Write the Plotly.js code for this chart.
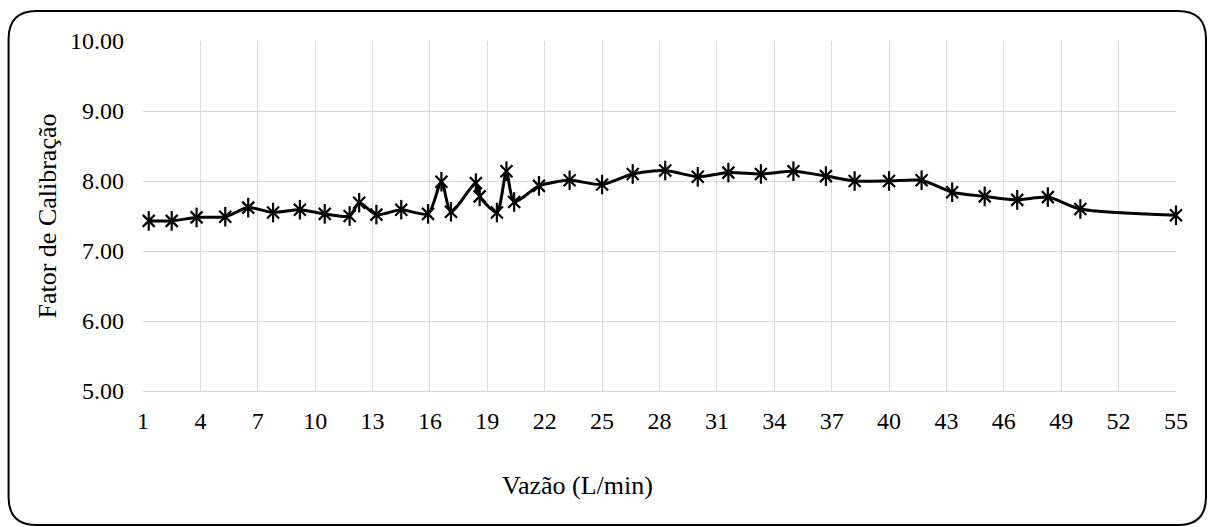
<!DOCTYPE html>
<html>
<head>
<meta charset="utf-8">
<script src="https://cdn.plot.ly/plotly-3.0.1.min.js"></script>
<style>
html,body{margin:0;padding:0;background:#fff;}
#chart{width:1208px;height:527px;}
</style>
</head>
<body>
<div id="chart"></div>
<script>
// Vazão (L/min)
const vazao = [1.3, 2.5, 3.8, 5.3, 6.5, 7.8, 9.2, 10.5, 11.8, 12.3, 13.2, 14.5, 15.9, 16.6, 17.1, 18.4, 18.6, 19.5, 20.0, 20.4,
  21.7, 23.3, 25.0, 26.6, 28.3, 30.0, 31.6, 33.3, 35.0, 36.7, 38.2, 40.0, 41.7, 43.3, 45.0, 46.7, 48.3, 50.0, 55.0];
// Fator de Calibração
const fator = [7.43, 7.43, 7.48, 7.49, 7.62, 7.55, 7.59, 7.53, 7.50, 7.69, 7.52, 7.59, 7.53, 7.99, 7.56, 7.97, 7.78, 7.55, 8.14, 7.70,
  7.93, 8.01, 7.95, 8.10, 8.15, 8.06, 8.12, 8.10, 8.14, 8.07, 8.00, 8.00, 8.01, 7.84, 7.78, 7.73, 7.77, 7.60, 7.51];

const xTitle = 'Vazão (L/min)';
const yTitle = 'Fator de Calibração';

const FONT = 'Liberation Serif, Times New Roman, serif';

// plot area in pixels
const L = 142.5, R = 1176, T = 41, B = 391;
const W = R - L, H = B - T;
const px = v => (v - L) / W;
const py = v => (B - v) / H;

// rounded outer frame
const x0 = px(8), x1 = px(1206), y0 = py(525), y1 = py(11);
const rx = 28 / W, ry = 28 / H;
const framePath = `M ${x0+rx},${y1} L ${x1-rx},${y1} Q ${x1},${y1} ${x1},${y1-ry} L ${x1},${y0+ry} Q ${x1},${y0} ${x1-rx},${y0} L ${x0+rx},${y0} Q ${x0},${y0} ${x0},${y0+ry} L ${x0},${y1-ry} Q ${x0},${y1} ${x0+rx},${y1} Z`;

const lineTrace = {
  x: vazao, y: fator, type: 'scatter', mode: 'lines',
  line: {color: '#000', width: 3, shape: 'spline', smoothing: 0.7},
  cliponaxis: false, hoverinfo: 'x+y'
};
const markX = {
  x: vazao, y: fator, type: 'scatter', mode: 'markers',
  marker: {symbol: 'x-thin-open', size: 12, color: '#000', line: {color: '#000', width: 2.2}},
  cliponaxis: false, hoverinfo: 'skip'
};
const markV = {
  x: vazao, y: fator, type: 'scatter', mode: 'markers',
  marker: {symbol: 'line-ns-open', size: 14, color: '#000', line: {color: '#000', width: 2.2}},
  cliponaxis: false, hoverinfo: 'skip'
};

const layout = {
  width: 1208, height: 527,
  margin: {l: L, r: 1208 - R, t: T, b: 527 - B, pad: 0},
  paper_bgcolor: '#fff', plot_bgcolor: '#fff',
  showlegend: false,
  font: {family: FONT, size: 24, color: '#000'},
  xaxis: {
    range: [1, 55], tick0: 1, dtick: 3, tickmode: 'linear',
    showgrid: true, gridcolor: '#d9d9d9', gridwidth: 1,
    zeroline: false, showline: true, linecolor: '#d9d9d9', linewidth: 1.3,
    ticks: '', ticklabelstandoff: 8,
    tickfont: {family: FONT, size: 24, color: '#000'}
  },
  yaxis: {
    range: [5, 10], tick0: 5, dtick: 1, tickmode: 'linear', tickformat: '.2f',
    showgrid: true, gridcolor: '#d9d9d9', gridwidth: 1,
    zeroline: false, showline: false,
    ticks: '', ticklabelstandoff: 18,
    tickfont: {family: FONT, size: 24, color: '#000'}
  },
  annotations: [
    {text: xTitle, xref: 'paper', yref: 'paper', x: px(577), y: py(485),
     xanchor: 'center', yanchor: 'middle', showarrow: false,
     font: {family: FONT, size: 26, color: '#000'}},
    {text: yTitle, xref: 'paper', yref: 'paper', x: px(46), y: py(216),
     xanchor: 'center', yanchor: 'middle', showarrow: false, textangle: -90,
     font: {family: FONT, size: 26, color: '#000'}}
  ],
  shapes: [
    {type: 'path', xref: 'paper', yref: 'paper', path: framePath,
     line: {color: '#000', width: 2}, fillcolor: 'rgba(0,0,0,0)', layer: 'above'}
  ]
};

Plotly.newPlot('chart', [lineTrace, markX, markV], layout, {displayModeBar: false, staticPlot: true});
</script>
</body>
</html>
